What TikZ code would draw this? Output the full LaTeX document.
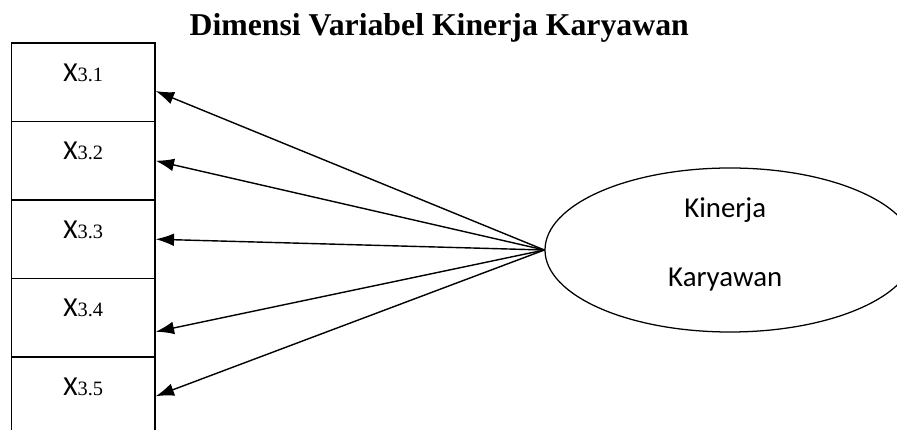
\documentclass[tikz,border=0pt]{standalone}
\usepackage{fontspec}
\setmainfont{Liberation Serif}
\newfontfamily\calfont{Carlito}
\usepackage{xcolor}
\usepackage{tikz}
\usetikzlibrary{arrows.meta,positioning,shapes.geometric}

\newcommand{\xsub}[1]{{\calfont\fontsize{19.5}{21}\selectfont X}{\fontsize{14.5}{16}\selectfont #1}}

\begin{document}
\begin{tikzpicture}[
  ibox/.style={rectangle, draw=black, line width=1.1pt, minimum width=3.585cm,
    minimum height=1.9625cm, inner sep=0pt},
  ilbl/.style={inner sep=0pt, yshift=0.24cm},
  lat/.style={ellipse, draw=black, line width=0.9pt, minimum width=9.25cm,
    minimum height=4.1cm, inner sep=0pt},
  lattext/.style={font=\calfont\fontsize{20.5}{49}\selectfont, align=center, inner sep=0pt},
  arr/.style={-{Latex[length=4.6mm, width=3.2mm]}, line width=1pt, draw=black},
  ttl/.style={font=\bfseries\fontsize{22.6}{25}\selectfont, anchor=base, inner sep=0pt}
]
\useasboundingbox (0,0) rectangle (22.425,-10.75);

\node[ttl] (title) at (10.98,-0.88) {Dimensi Variabel Kinerja Karyawan};

% indicator boxes
\node[ibox] (x1) at (2.08,-2.056) {};
\node[ibox] (x2) at (2.08,-4.019) {};
\node[ibox] (x3) at (2.08,-5.981) {};
\node[ibox] (x4) at (2.08,-7.944) {};
\node[ibox] (x5) at (2.08,-9.906) {};

\node[ilbl] (l1) at (x1.center) {\xsub{3.1}};
\node[ilbl] (l2) at (x2.center) {\xsub{3.2}};
\node[ilbl] (l3) at (x3.center) {\xsub{3.3}};
\node[ilbl] (l4) at (x4.center) {\xsub{3.4}};
\node[ilbl] (l5) at (x5.center) {\xsub{3.5}};

% latent variable
\node[lat] (kk) at (18.25,-6.25) {};
\node[lattext] (kktext) at ([xshift=-0.12cm, yshift=0.15cm]kk.center) {Kinerja\\Karyawan};

\draw[arr] (kk.west) -- ([yshift=-0.22cm]x1.east);
\draw[arr] (kk.west) -- (x2.east);
\draw[arr] (kk.west) -- (x3.east);
\draw[arr] (kk.west) -- ([yshift=-0.35cm]x4.east);
\draw[arr] (kk.west) -- (x5.east);

\end{tikzpicture}
\end{document}
